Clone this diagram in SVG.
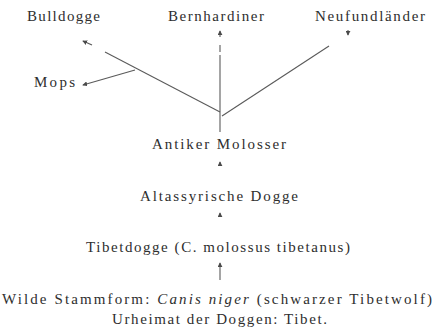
<svg xmlns="http://www.w3.org/2000/svg" width="434" height="329" viewBox="0 0 434 329">
<defs>
<style>
text{font-family:"Liberation Serif","DejaVu Serif",serif;font-size:15px;fill:#2e2e2e}
.c line{stroke:#5a5a5a;stroke-width:1.1;fill:none}
.h{fill:#4a4a4a}
</style>
<marker id="ah" viewBox="0 0 6 6" refX="5" refY="3" markerWidth="5" markerHeight="5" markerUnits="userSpaceOnUse" orient="auto">
<path d="M0,0 L6,3 L0,6 z" class="h"/>
</marker>
</defs>
<rect width="434" height="329" fill="#fff"/>
<g id="connectors" class="c">
<line x1="105" y1="52" x2="220" y2="112"/>
<line x1="92" y1="45" x2="83" y2="41" marker-end="url(#ah)"/>
<line x1="220" y1="132" x2="220" y2="55"/>
<line x1="220" y1="52" x2="220" y2="45" stroke-width="0.8"/>
<line x1="220" y1="37" x2="220" y2="31" marker-end="url(#ah)" stroke-width="0.5"/>
<line x1="329" y1="46" x2="222" y2="116"/>
<line x1="348" y1="30" x2="348" y2="35" marker-end="url(#ah)" stroke-width="0.5"/>
<line x1="135" y1="70" x2="83" y2="85" marker-end="url(#ah)"/>
<line x1="220" y1="166" x2="220" y2="162" marker-end="url(#ah)" stroke-width="0.5"/>
<line x1="220" y1="217" x2="220" y2="213" marker-end="url(#ah)" stroke-width="0.5"/>
<line x1="220" y1="280" x2="220" y2="263" marker-end="url(#ah)" stroke-width="0.9"/>
</g>
<g font-family="'Liberation Serif', 'DejaVu Serif', serif">
<g id="bulldogge"><text x="27" y="21" textLength="73" lengthAdjust="spacing">Bulldogge</text></g>
<g id="bernhardiner"><text x="168" y="21" textLength="96" lengthAdjust="spacing">Bernhardiner</text></g>
<g id="neufundlaender"><text x="315" y="21" textLength="110" lengthAdjust="spacing">Neufundländer</text></g>
<g id="mops"><text x="34" y="87" textLength="41" lengthAdjust="spacing">Mops</text></g>
<g id="antiker-molosser"><text x="152" y="149" textLength="134" lengthAdjust="spacing">Antiker Molosser</text></g>
<g id="altassyrische-dogge"><text x="140" y="201" textLength="158" lengthAdjust="spacing">Altassyrische Dogge</text></g>
<g id="tibetdogge"><text x="86" y="252" textLength="264" lengthAdjust="spacing">Tibetdogge (C. molossus tibetanus)</text></g>
<g id="stammform">
<text x="2" y="304" textLength="430" lengthAdjust="spacing">Wilde Stammform: <tspan font-style="italic">Canis niger</tspan> (schwarzer Tibetwolf)</text>
<text x="112" y="324" textLength="215" lengthAdjust="spacing">Urheimat der Doggen: Tibet.</text>
</g>
</g>
</svg>
